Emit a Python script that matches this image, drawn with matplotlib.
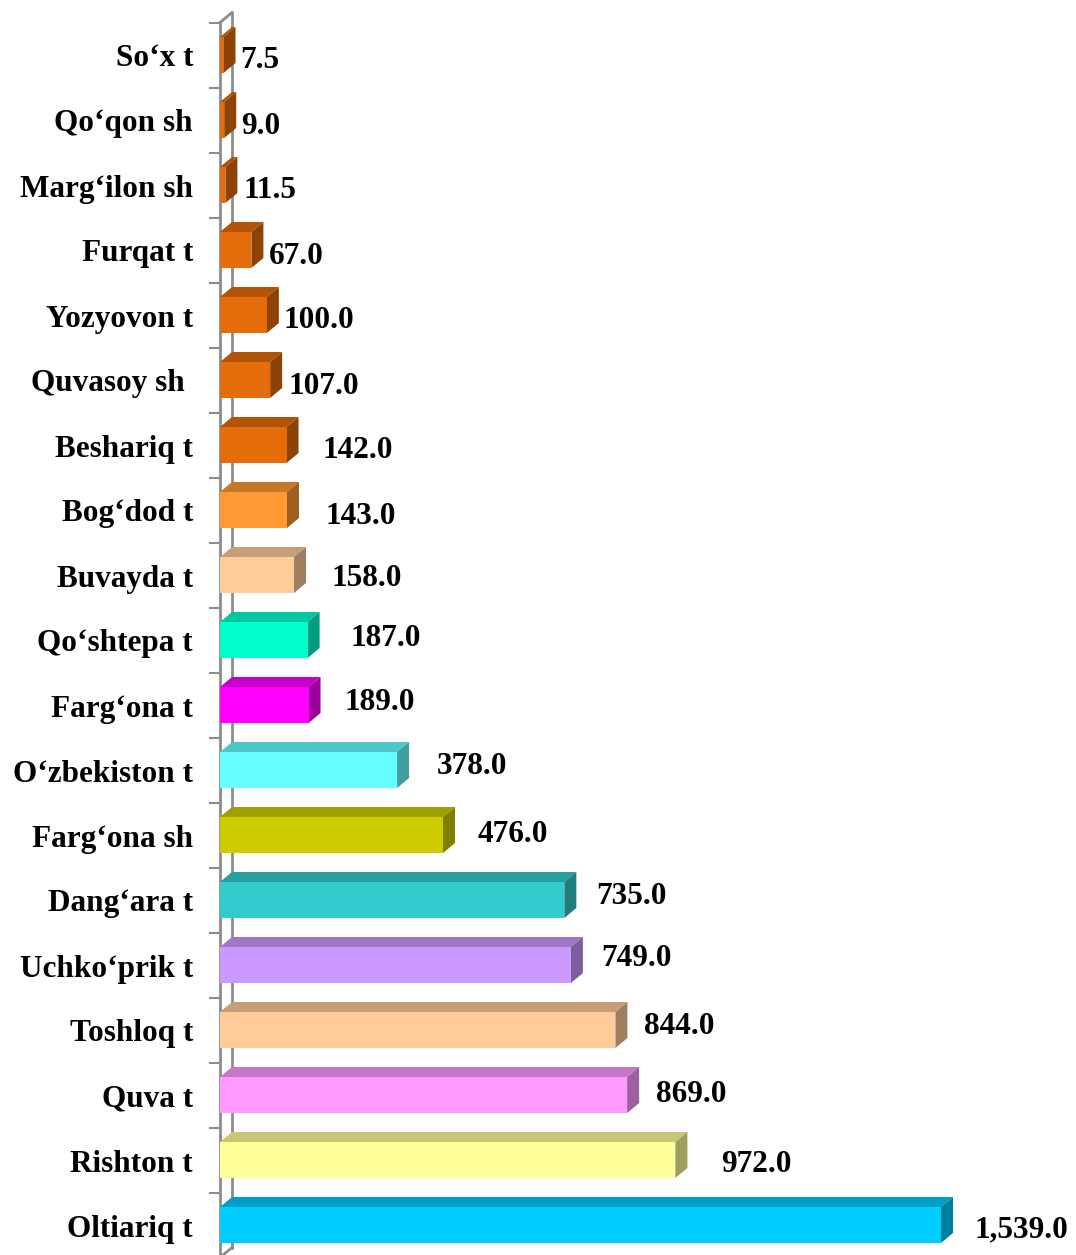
import matplotlib
matplotlib.use("Agg")
import matplotlib.pyplot as plt
from matplotlib.patches import Polygon, Rectangle
from matplotlib.colors import to_rgb

# ---- data (bottom to top) ----
categories = ["Oltiariq t", "Rishton t", "Quva t", "Toshloq t", "Uchko‘prik t",
              "Dang‘ara t", "Farg‘ona sh", "O‘zbekiston t", "Farg‘ona t",
              "Qo‘shtepa t", "Buvayda t", "Bog‘dod t", "Beshariq t",
              "Quvasoy sh ", "Yozyovon t", "Furqat t", "Marg‘ilon sh",
              "Qo‘qon sh", "So‘x t"]
values = [1539.0, 972.0, 869.0, 844.0, 749.0, 735.0, 476.0, 378.0, 189.0,
          187.0, 158.0, 143.0, 142.0, 107.0, 100.0, 67.0, 11.5, 9.0, 7.5]

# ---- style ----
front_colors = ["#00CCFF", "#FFFF99", "#FF99FF", "#FFCC99", "#CC99FF",
                "#33CCCC", "#CCCC00", "#66FFFF", "#FF00FF", "#00FFCC",
                "#FFCC99", "#FF9933", "#E46C0A", "#E46C0A", "#E46C0A",
                "#E46C0A", "#E46C0A", "#E46C0A", "#E46C0A"]
# label offsets in pixels (dx from bar end incl. depth, dy upward)
lab_dx = [21, 34, 17, 17, 18, 20, 23, 28, 24, 31, 25, 27, 24, 6, 5, 5, 6, 5, 5]
lab_dy = [-1, -1, 4, 8, 10, 8, 5, 8, 6, 6, 1, -2, -2, -2, -2, -2, -2, -2, -2]
text_shift = -4   # pixels, global vertical adjustment of texts

W, H = 1076, 1255
fig = plt.figure(figsize=(W / 100, H / 100), dpi=100)
x0 = 220
ax = fig.add_axes([x0 / W, 0, (W - x0) / W, 1])
pxu = 0.4685                   # pixels per data unit
xmax = (W - x0) / pxu
row = 65.0                     # pixels per category
yc0 = 1225.0                   # pixel y of first category centre
ax.set_xlim(0, xmax)
ax.set_ylim((yc0 - H) / row, yc0 / row)
ax.axis("off")

dx = 12 / pxu
dy = 10 / row
h = 36 / row

def shade(c, f):
    r, g, b = to_rgb(c)
    return (r * f, g * f, b * f)

wall = "#8C8C8C"
n = len(categories)
# back wall line
ax.plot([dx, dx], [-0.5 + dy, n - 0.5 + dy], color=wall, lw=2, clip_on=False, zorder=1)
ax.plot([0, dx], [n - 0.5, n - 0.5 + dy], color=wall, lw=2, clip_on=False, zorder=1)
ax.plot([0, dx], [-0.5, -0.5 + dy], color=wall, lw=2, clip_on=False, zorder=1)
# front axis line
ax.plot([0, 0], [-0.5, n - 0.5], color=wall, lw=2, clip_on=False, zorder=1)
# tick marks at category boundaries
for i in range(n):
    b = i + 0.5
    ax.plot([-10 / pxu, 0], [b, b], color=wall, lw=1.5, clip_on=False, zorder=1)

for i, (cat, v, c) in enumerate(zip(categories, values, front_colors)):
    y = i
    bot, top = y - h / 2, y + h / 2
    ax.add_patch(Polygon([(0, top), (v, top), (v + dx, top + dy), (dx, top + dy)],
                         closed=True, facecolor=shade(c, 0.78), edgecolor="none", zorder=3))
    ax.add_patch(Polygon([(v, bot), (v + dx, bot + dy), (v + dx, top + dy), (v, top)],
                         closed=True, facecolor=shade(c, 0.62), edgecolor="none", zorder=3))
    ax.add_patch(Rectangle((0, bot), v, h, facecolor=c, edgecolor="none", zorder=4))
    ax.text(v + dx + lab_dx[i] / pxu, y + (lab_dy[i] + text_shift) / row, f"{v:,.1f}",
            ha="left", va="center", fontsize=22.5, fontweight="bold",
            family="Liberation Serif", color="black", zorder=5)
    ax.text(-27 / pxu, y + text_shift / row, cat, ha="right", va="center", fontsize=22.5,
            fontweight="bold", family="Liberation Serif", color="black",
            clip_on=False)

fig.savefig("out.png", dpi=100)
